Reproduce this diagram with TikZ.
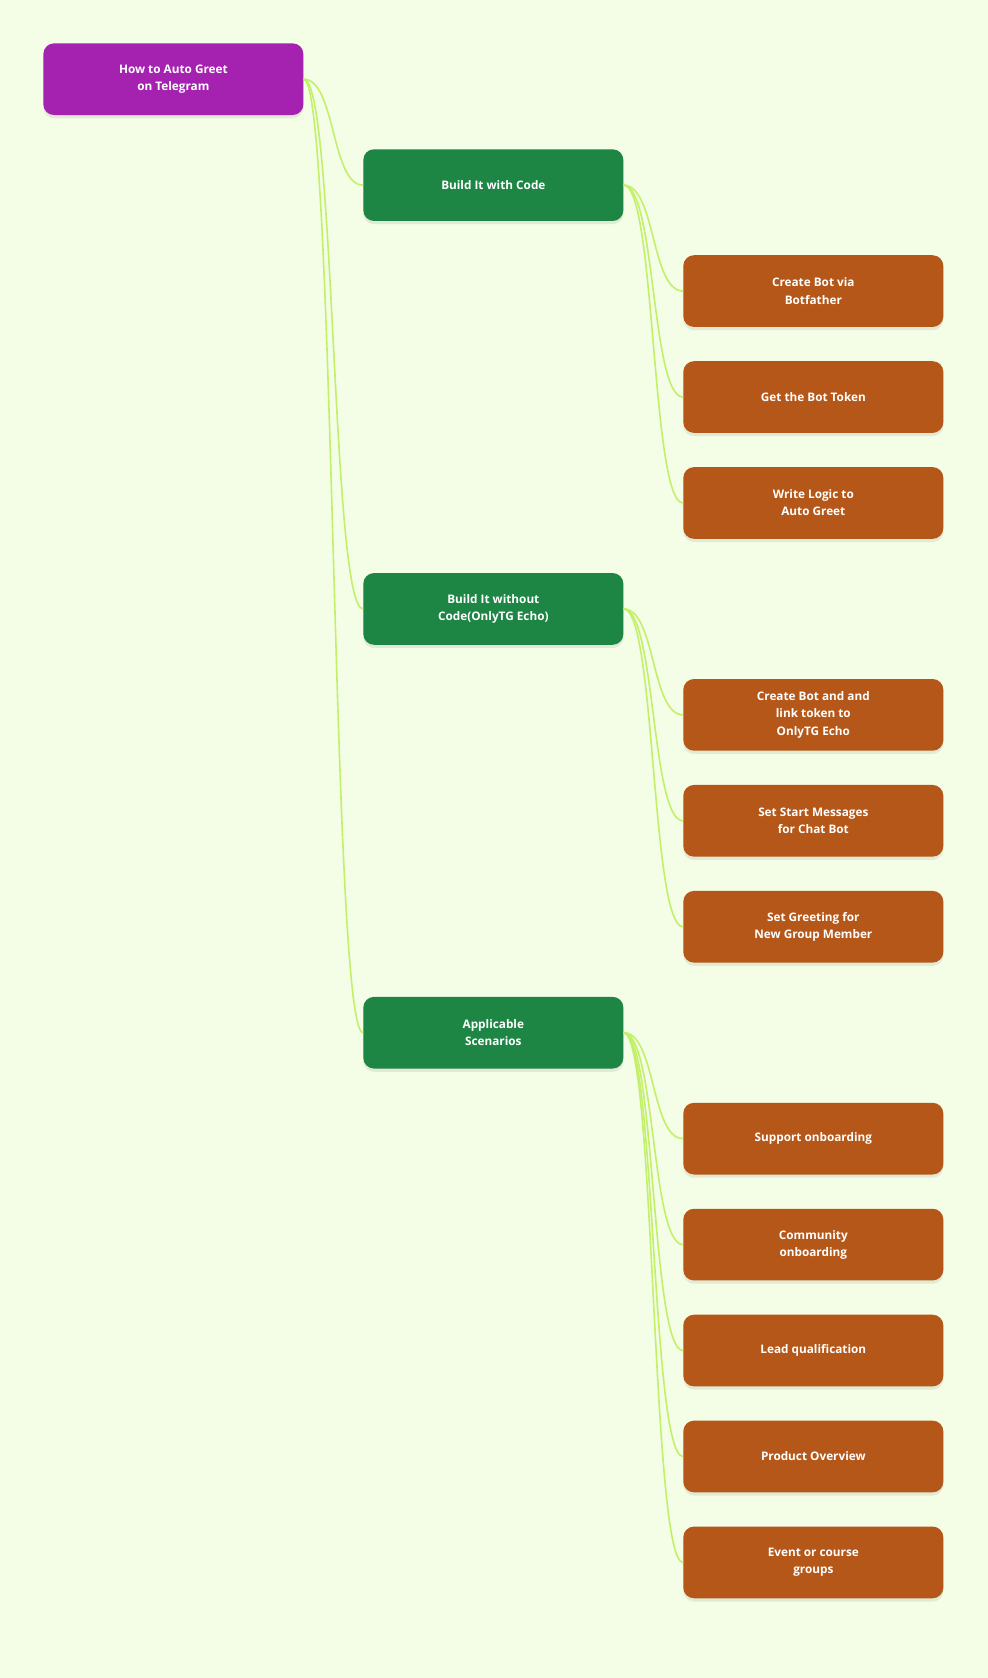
\documentclass[tikz,border=0pt]{standalone}
\usepackage{fontspec}
\setmainfont{Open Sans}
\usetikzlibrary{shadows}
\definecolor{bg}{HTML}{F4FDE6}
\definecolor{pur}{HTML}{A522B0}
\definecolor{grn}{HTML}{1E8645}
\definecolor{org}{HTML}{B55718}
\definecolor{edg}{HTML}{C3F06A}
\begin{document}
\begin{tikzpicture}[x=1pt,y=-1pt,
 box/.style={rounded corners=10pt,minimum width=243pt,minimum height=67pt,align=center,text=white,font=\fontsize{11}{16}\selectfont\bfseries,draw=none,drop shadow={opacity=0.15,shadow xshift=0pt,shadow yshift=-3pt}},
 r/.style={box,fill=pur},g/.style={box,fill=grn},o/.style={box,fill=org},
 e/.style={draw=edg,line width=1.5pt}]
\fill[bg] (0,0) rectangle (923,1568);
\useasboundingbox (0,0) rectangle (923,1568);
\node[r] (root) at (162,74) {How to Auto Greet\\on Telegram};
\node[g] (g1) at (461,173) {Build It with Code};
\node[g] (g2) at (461,569) {Build It without\\Code(OnlyTG Echo)};
\node[g] (g3) at (461,965) {Applicable\\Scenarios};
\node[o] (a1) at (760,272) {Create Bot via\\Botfather};
\node[o] (a2) at (760,371) {Get the Bot Token};
\node[o] (a3) at (760,470) {Write Logic to\\Auto Greet};
\node[o] (b1) at (760,668) {Create Bot and and\\link token to\\OnlyTG Echo};
\node[o] (b2) at (760,767) {Set Start Messages\\for Chat Bot};
\node[o] (b3) at (760,866) {Set Greeting for\\New Group Member};
\node[o] (c1) at (760,1064) {Support onboarding};
\node[o] (c2) at (760,1163) {Community\\onboarding};
\node[o] (c3) at (760,1262) {Lead qualification};
\node[o] (c4) at (760,1361) {Product Overview};
\node[o] (c5) at (760,1460) {Event or course\\groups};
\foreach \p/\c in {root/g1,root/g2,root/g3,g1/a1,g1/a2,g1/a3,g2/b1,g2/b2,g2/b3,g3/c1,g3/c2,g3/c3,g3/c4,g3/c5}
 \draw[e] (\p.east) .. controls +(30,0) and +(-30,0) .. (\c.west);
\end{tikzpicture}
\end{document}
